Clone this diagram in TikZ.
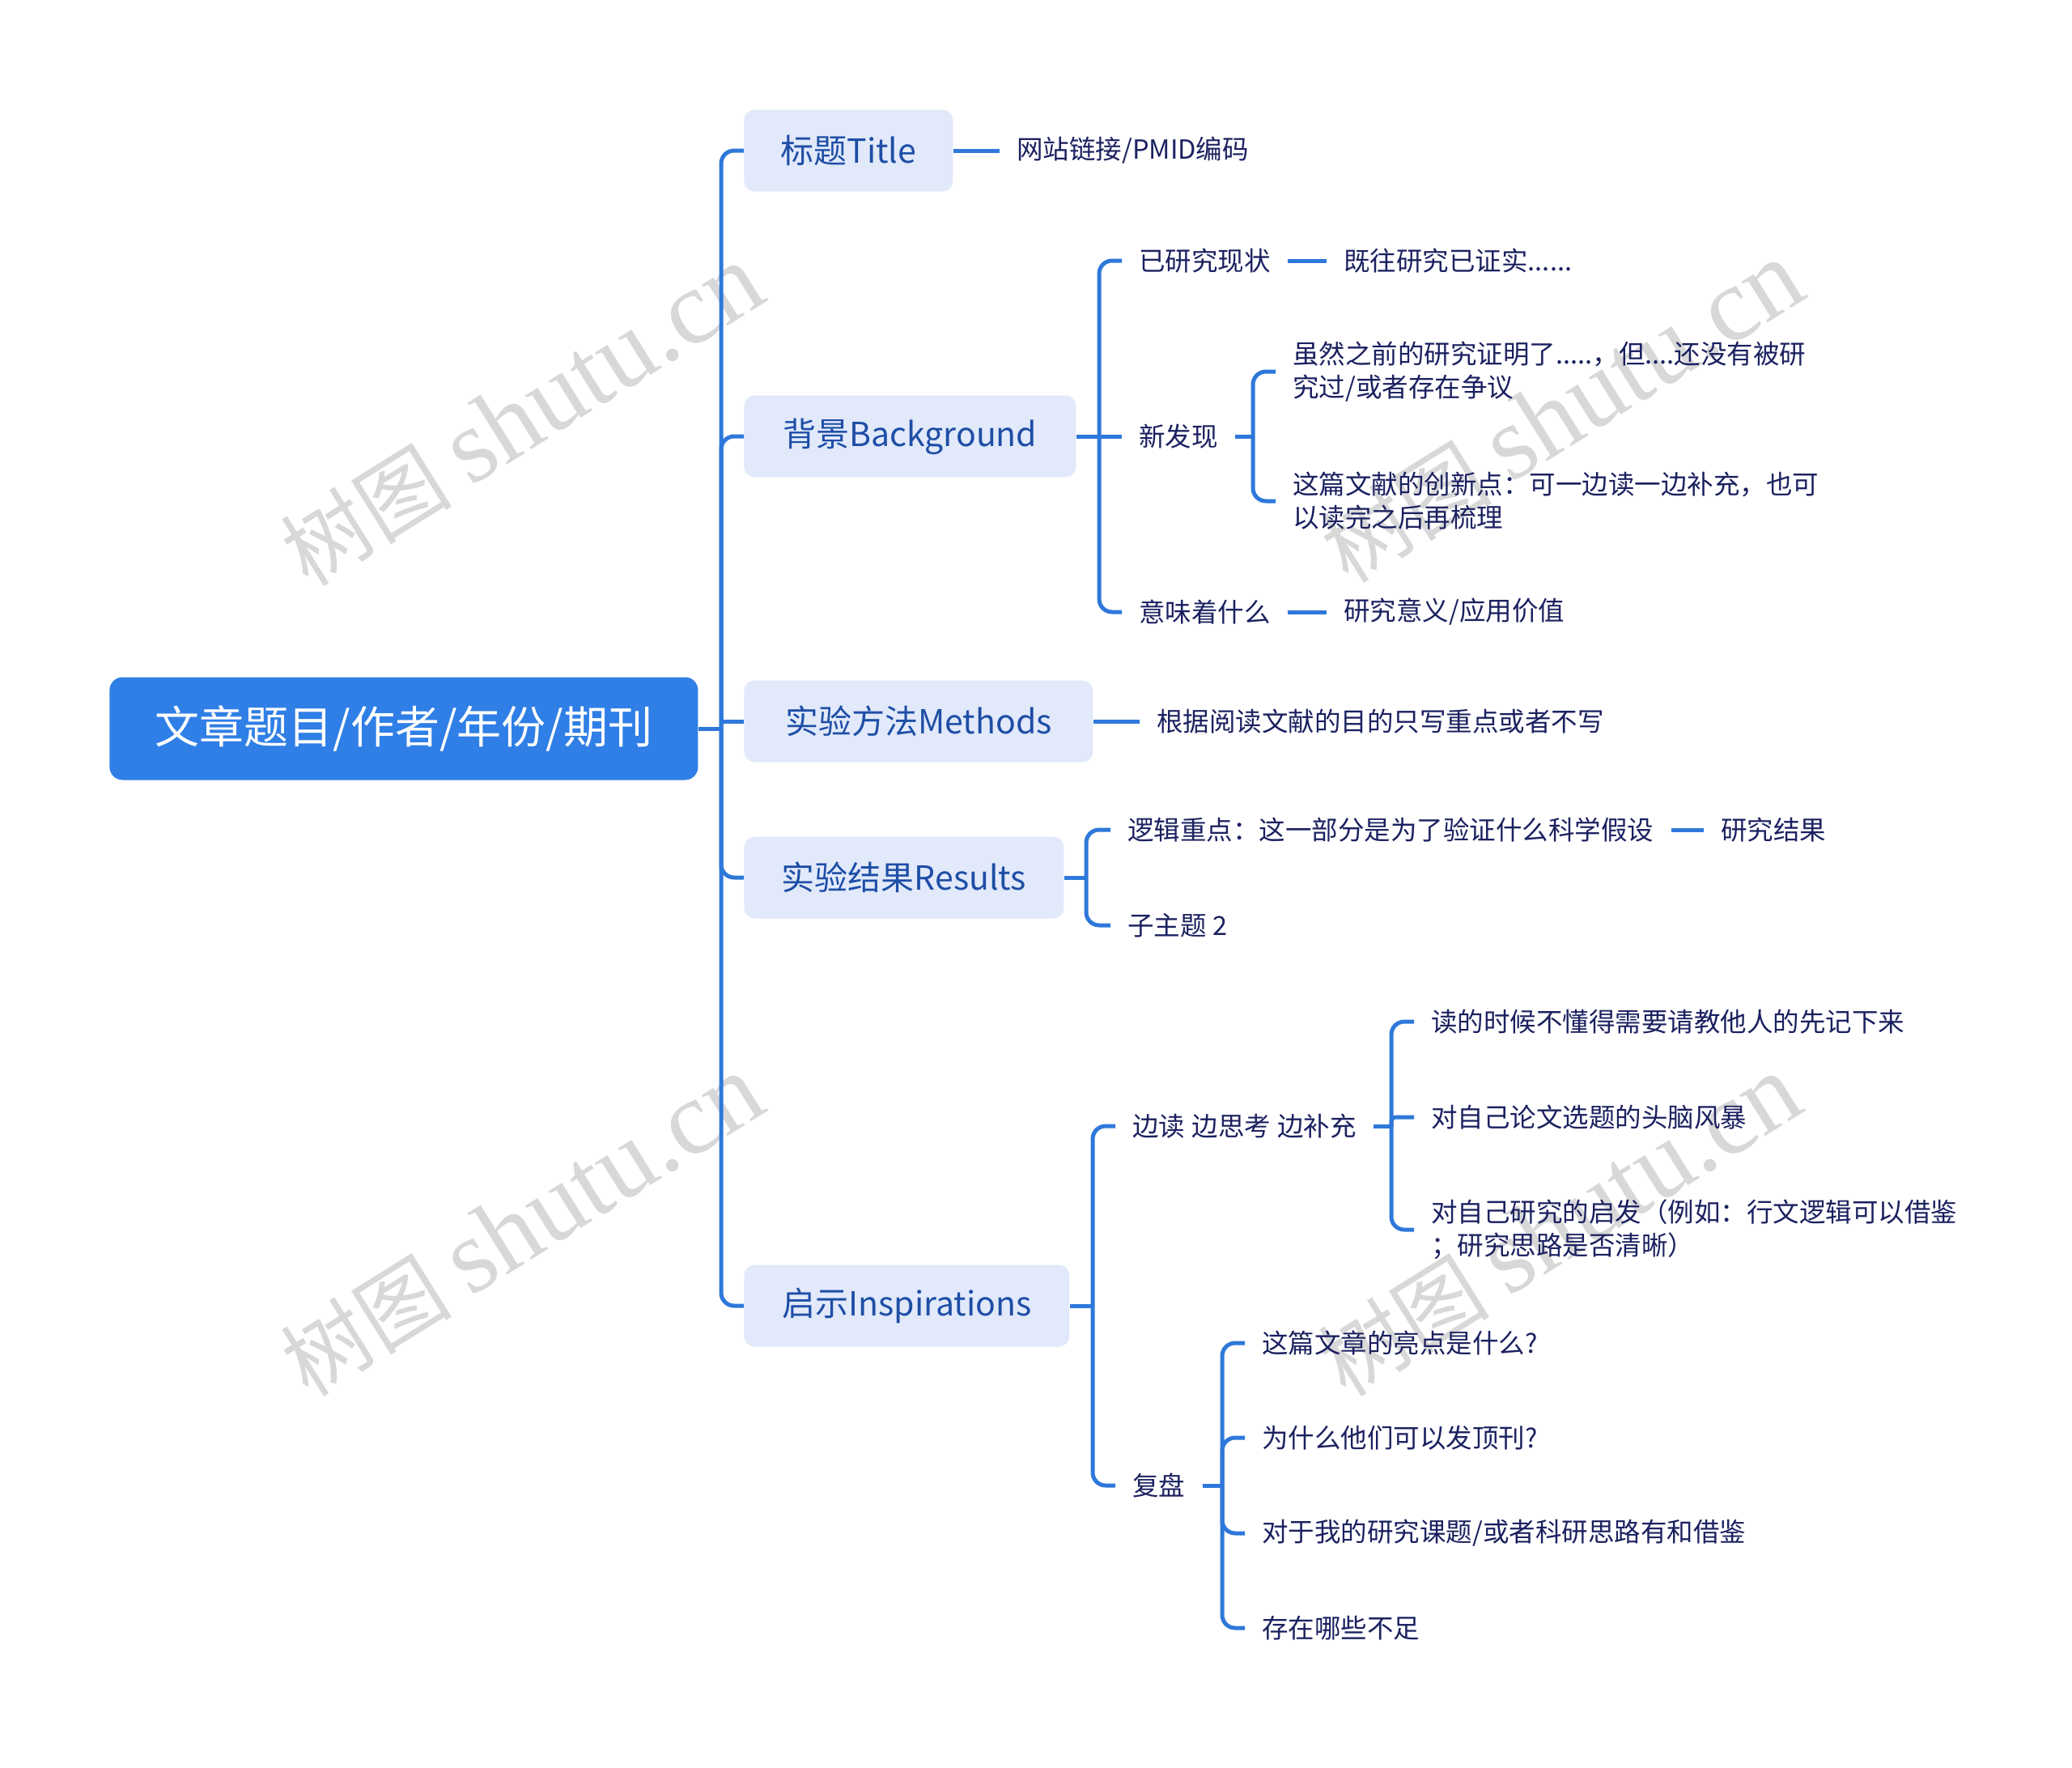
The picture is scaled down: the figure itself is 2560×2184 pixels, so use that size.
\documentclass[tikz,border=0pt]{standalone}
\usepackage{fontspec}
\setmainfont{Noto Sans CJK SC}
\newfontfamily\wmlatin{Liberation Serif}
\definecolor{rootblue}{HTML}{2F7FE6}
\definecolor{boxfill}{HTML}{E1E9FA}
\definecolor{lvltext}{HTML}{1E4EA6}
\definecolor{leaftext}{HTML}{1B2160}
\definecolor{linec}{HTML}{2E78DA}
\definecolor{wmgray}{HTML}{D8D8D8}
\newcommand{\wmtext}{{\fontsize{53}{58}\selectfont 树图}\hspace{12pt}{\wmlatin\fontsize{65}{70}\selectfont shutu.cn}}
\tikzset{
 rootbox/.style={fill=rootblue,text=white,rounded corners=8pt,minimum width=363.5pt,minimum height=63.5pt,anchor=west,inner sep=0pt,font=\fontsize{27.5}{33}\selectfont},
 topic/.style={fill=boxfill,text=lvltext,rounded corners=6.5pt,minimum height=50.5pt,anchor=west,inner sep=0pt,font=\fontsize{20.5}{25}\selectfont},
 leaf/.style={text=leaftext,anchor=west,inner xsep=10.5pt,inner ysep=2pt,align=left,font=\fontsize{16.25}{20.5}\selectfont},
 conn/.style={draw=linec,line width=2.5pt,rounded corners=8pt},
 wm/.style={text=wmgray,rotate=32,inner sep=0pt}
}
\begin{document}
\begin{tikzpicture}[x=0.5pt,y=-0.5pt]
\useasboundingbox (0,0) rectangle (2560,2184);
\fill[white] (0,0) rectangle (2560,2184);
% watermarks
\node[wm] (wm1) at (645,514) {\wmtext};
\node[wm] (wm2) at (1930,510) {\wmtext};
\node[wm] (wm3) at (645,1515) {\wmtext};
\node[wm] (wm4) at (1927,1515) {\wmtext};
% root and topics
\node[rootbox] (root) at (135,900) {文章题目/作者/年份/期刊};
\node[topic,minimum width=129pt] (title) at (919,186) {标题Title};
\node[topic,minimum width=205pt] (bg) at (919,539) {背景Background};
\node[topic,minimum width=215.5pt] (meth) at (919,891) {实验方法Methods};
\node[topic,minimum width=197.5pt] (res) at (919,1084) {实验结果Results};
\node[topic,minimum width=201pt] (insp) at (919,1613) {启示Inspirations};
% leaves
\node[leaf] (t1) at (1235,186) {网站链接/PMID编码};
\node[leaf] (b1) at (1386,322) {已研究现状};
\node[leaf] (b1a) at (1639,322) {既往研究已证实......};
\node[leaf] (b2) at (1386,539) {新发现};
\node[leaf] (b2a) at (1576,459) {虽然之前的研究证明了.....，但....还没有被研\\究过/或者存在争议};
\node[leaf] (b2b) at (1576,619) {这篇文献的创新点：可一边读一边补充，也可\\以读完之后再梳理};
\node[leaf] (b3) at (1386,756) {意味着什么};
\node[leaf] (b3a) at (1639,756) {研究意义/应用价值};
\node[leaf] (m1) at (1408,891) {根据阅读文献的目的只写重点或者不写};
\node[leaf] (r1) at (1372,1025) {逻辑重点：这一部分是为了验证什么科学假设};
\node[leaf] (r1a) at (2105,1025) {研究结果};
\node[leaf] (r2) at (1372,1143) {子主题 2};
\node[leaf] (i1) at (1378,1391) {边读\hspace{0.25em}边思考\hspace{0.25em}边补充};
\node[leaf] (i1a) at (1747,1262) {读的时候不懂得需要请教他人的先记下来};
\node[leaf] (i1b) at (1747,1380) {对自己论文选题的头脑风暴};
\node[leaf] (i1c) at (1747,1519) {对自己研究的启发（例如：行文逻辑可以借鉴\\；研究思路是否清晰）};
\node[leaf] (i2) at (1378,1835) {复盘};
\node[leaf] (i2a) at (1538,1659) {这篇文章的亮点是什么?};
\node[leaf] (i2b) at (1538,1776) {为什么他们可以发顶刊?};
\node[leaf] (i2c) at (1538,1894) {对于我的研究课题/或者科研思路有和借鉴};
\node[leaf] (i2d) at (1538,2011) {存在哪些不足};
% main spine
\coordinate (ms) at (891,900);
\draw[conn] (root.east) -- (ms);
\draw[conn] (ms) |- (title.west);
\draw[conn] (ms) |- (bg.west);
\draw[conn] (ms) |- (res.west);
\draw[conn] (ms) |- (insp.west);
\draw[conn] (891,891) -- (meth.west);
% title
\draw[conn] (title.east) -- (t1.west);
% background
\coordinate (bs) at (1358,539);
\draw[conn] (bg.east) -- (bs);
\draw[conn] (bs) |- (b1.west);
\draw[conn] (bs) |- (b3.west);
\draw[conn] (bs) -- (b2.west);
\draw[conn] (b1.east) -- (b1a.west);
\draw[conn] (b3.east) -- (b3a.west);
\coordinate (ns) at (1548,539);
\draw[conn] (b2.east) -- (ns);
\draw[conn] (ns) |- (b2a.west);
\draw[conn] (ns) |- (b2b.west);
% methods
\draw[conn] (meth.east) -- (m1.west);
% results
\coordinate (rs) at (1342,1084);
\draw[conn] (res.east) -- (rs);
\draw[conn] (rs) |- (r1.west);
\draw[conn] (rs) |- (r2.west);
\draw[conn] (r1.east) -- (r1a.west);
% inspirations
\coordinate (is) at (1350,1613);
\draw[conn] (insp.east) -- (is);
\draw[conn] (is) |- (i1.west);
\draw[conn] (is) |- (i2.west);
\coordinate (es) at (1719,1391);
\draw[conn] (i1.east) -- (es);
\draw[conn] (es) |- (i1a.west);
\draw[conn] (es) |- (i1c.west);
\draw[conn,rounded corners=2.5pt] (es) |- (i1b.west);
\coordinate (fs) at (1510,1835);
\draw[conn] (i2.east) -- (fs);
\draw[conn] (fs) |- (i2a.west);
\draw[conn] (fs) |- (i2b.west);
\draw[conn] (fs) |- (i2c.west);
\draw[conn] (fs) |- (i2d.west);
\end{tikzpicture}
\end{document}
